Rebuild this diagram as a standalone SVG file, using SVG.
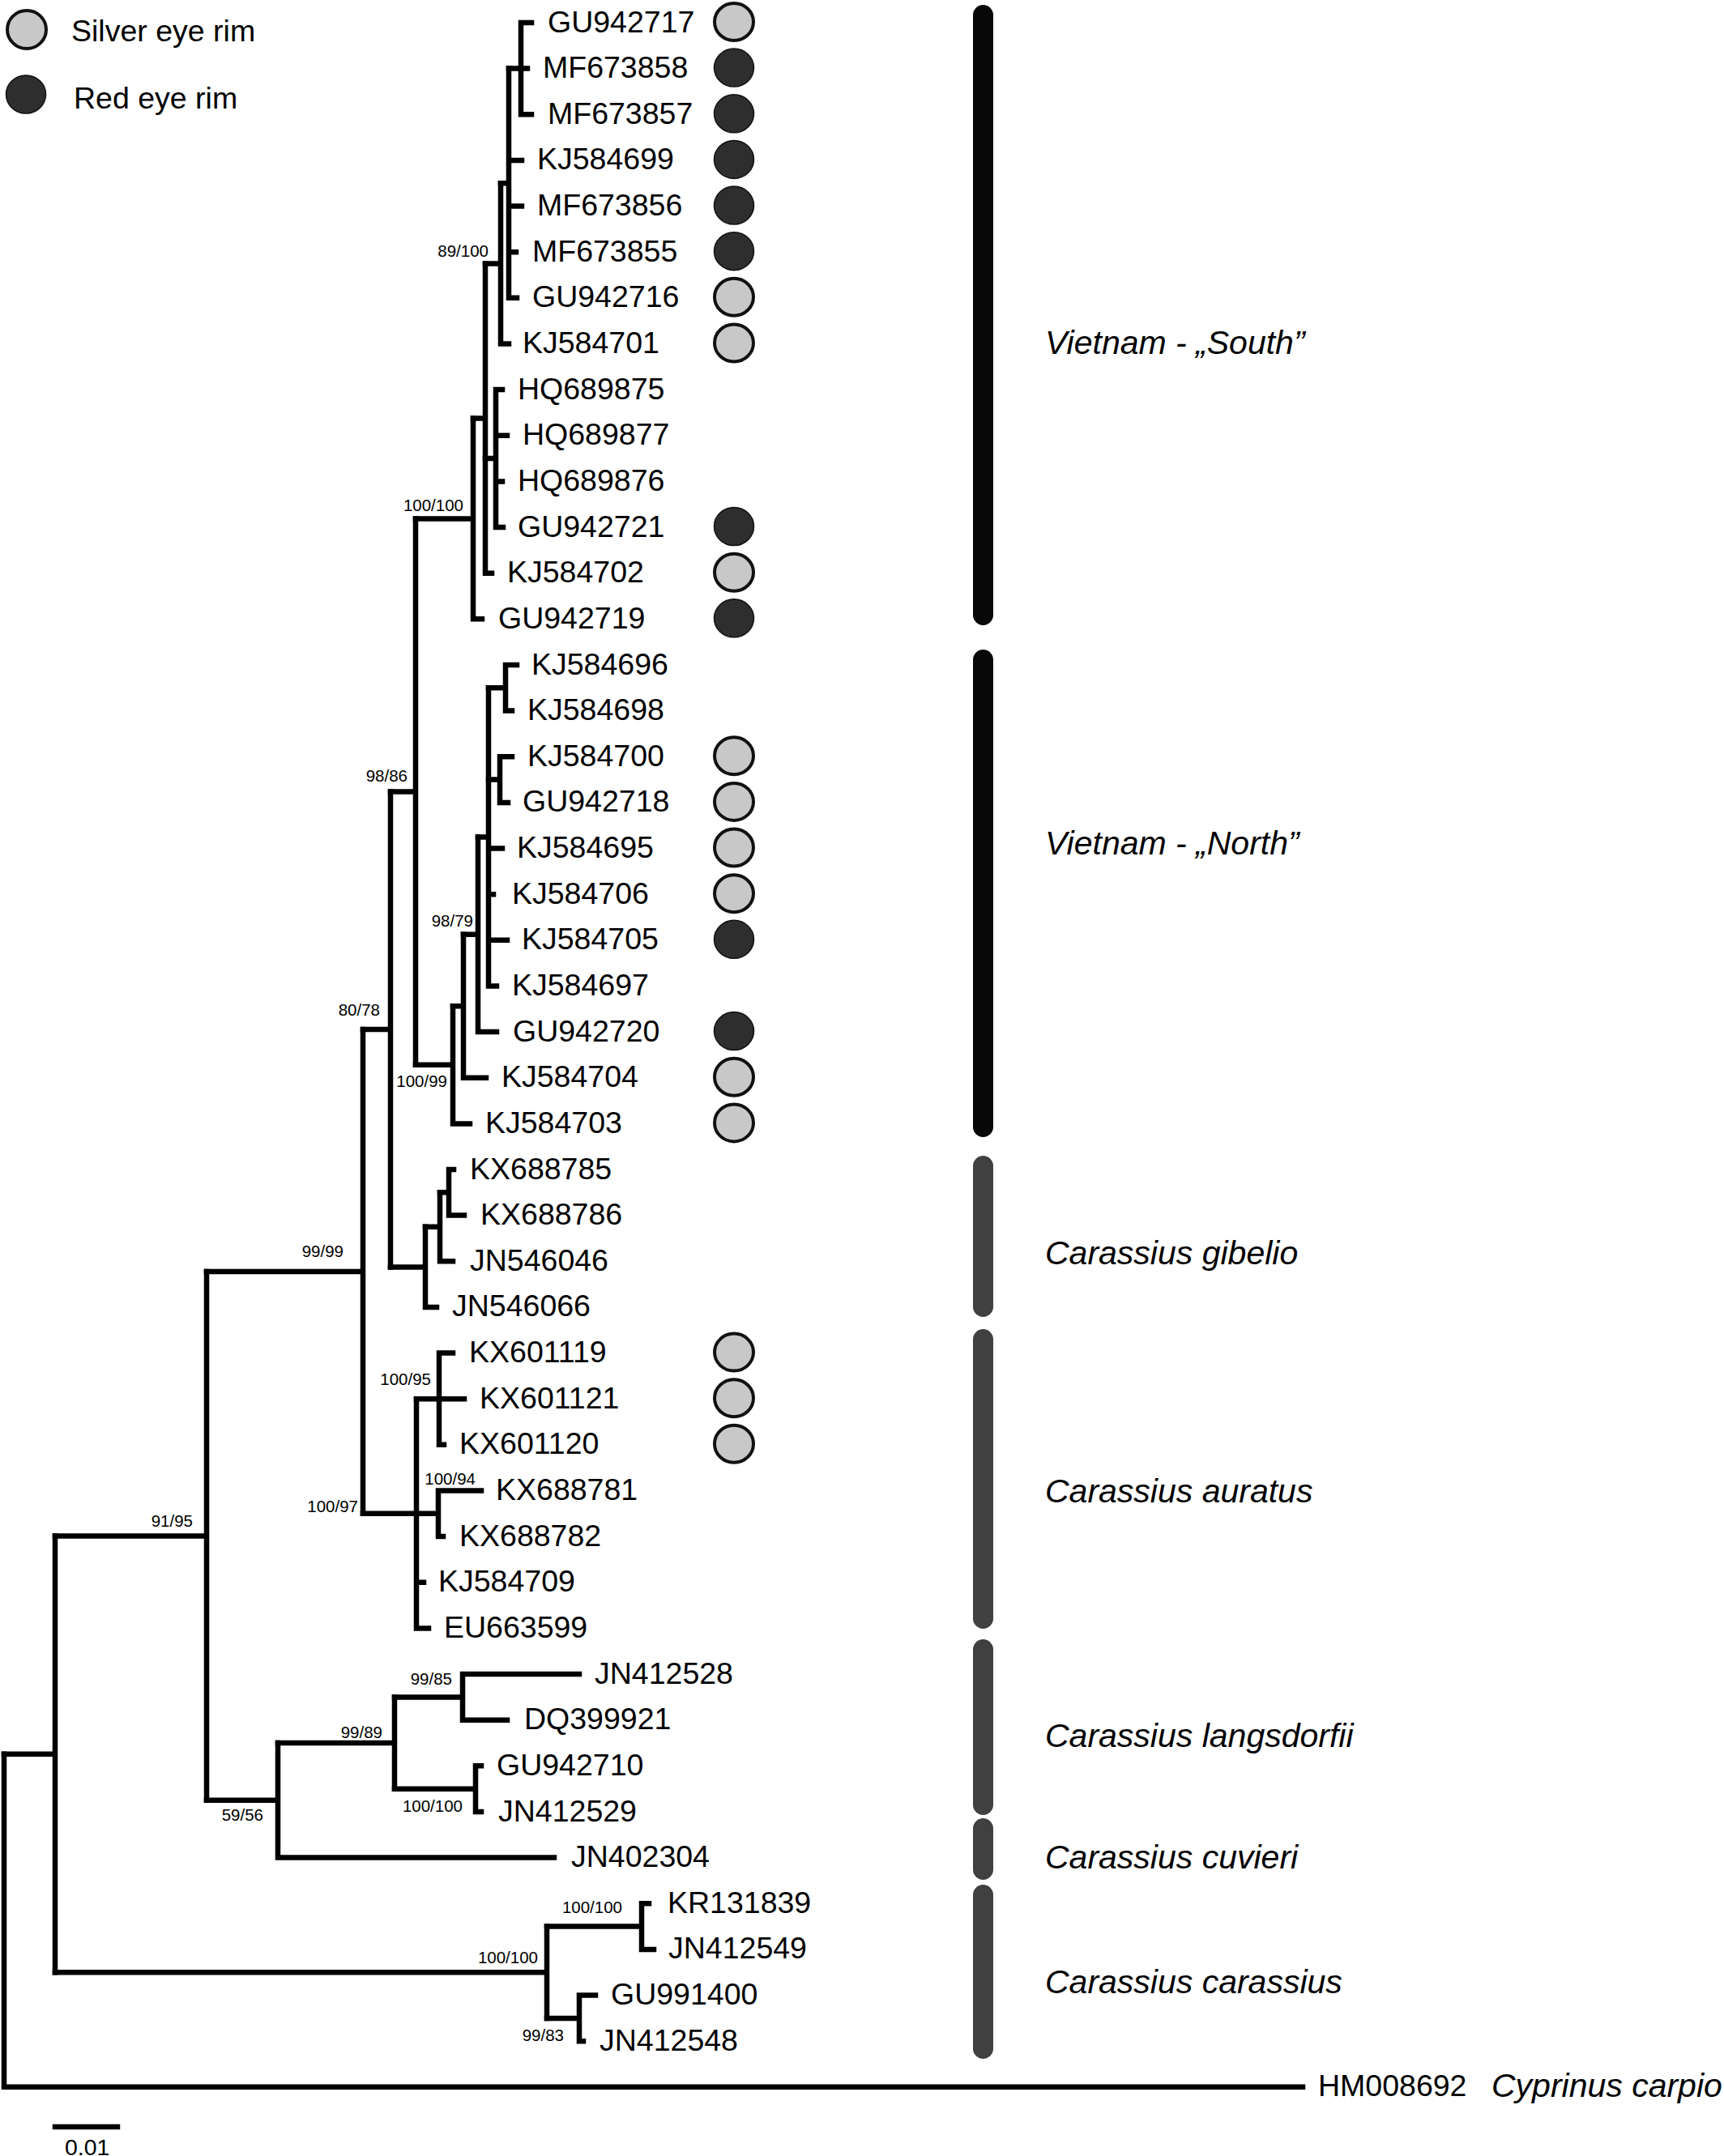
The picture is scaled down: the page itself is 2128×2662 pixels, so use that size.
<svg xmlns="http://www.w3.org/2000/svg" width="2128" height="2662" viewBox="0 0 2128 2662">
<style>
.br{fill:none;stroke:#000;stroke-width:6.5;stroke-linecap:square}
.lb{font-family:"Liberation Sans",Arial,sans-serif;font-size:37.5px;fill:#000}
.bs{font-family:"Liberation Sans",Arial,sans-serif;font-size:20.5px;fill:#000;text-anchor:end}
.cl{font-family:"Liberation Sans",Arial,sans-serif;font-size:41px;font-style:italic;fill:#000}
.sv{fill:#c8c8c8;stroke:#111;stroke-width:4}
.rd{fill:#2e2e2e;stroke:#111;stroke-width:1.5}
.bk{fill:#080808}
.gy{fill:#404040}
</style>
<rect width="2128" height="2662" fill="#fff"/>
<g id="legend">
<ellipse class="sv" cx="33" cy="36.5" rx="24" ry="23.5"/>
<text class="lb" x="88" y="50.5">Silver eye rim</text>
<ellipse class="rd" cx="32" cy="116.5" rx="24.5" ry="23.5"/>
<text class="lb" x="91" y="133.5">Red eye rim</text>
</g>
<g id="connectors" class="br">
<path d="M5,2165.8V2576.8M5,2576.8H1608"/>
<path d="M5,2165.8H68M68,1896.4V2435.2"/>
<path d="M68,1896.4H255M255,1569.9V2222.8"/>
<path d="M68,2435.2H675M675,2378.6V2491.9"/>
<path d="M675,2378.6H792M792,2350.2V2406.9M792,2350.2H801M792,2406.9H807"/>
<path d="M675,2491.9H715M715,2463.5V2520.2M715,2463.5H735M715,2520.2H720"/>
<path d="M255,1569.9H448M448,1271V1868.8"/>
<path d="M255,2222.8H343M343,2152V2293.6M343,2293.6H684"/>
<path d="M343,2152H487M487,2095.4V2208.7"/>
<path d="M487,2095.4H571M571,2067V2123.7M571,2067H715M571,2123.7H626"/>
<path d="M487,2208.7H587M587,2180.3V2237M587,2180.3H594M587,2237H594"/>
<path d="M448,1271H482M482,977.6V1564.4"/>
<path d="M448,1868.8H514M514,1727.2V2010.4M514,1953.8H523M514,2010.4H529"/>
<path d="M514,1727.2H542M542,1670.6V1783.8M542,1670.6H559M542,1727.2H573M542,1783.8H548"/>
<path d="M514,1868.8H541M541,1840.5V1897.1M541,1840.5H594M541,1897.1H547"/>
<path d="M482,1564.4H525M525,1514.8V1613.9M525,1613.9H539"/>
<path d="M525,1514.8H543M543,1472.3V1557.3M543,1557.3H559"/>
<path d="M543,1472.3H554M554,1444V1500.6M554,1444H560M554,1500.6H573"/>
<path d="M482,977.6H513M513,640.4V1314.8"/>
<path d="M513,640.4H584M584,516.6V764.3M584,764.3H595"/>
<path d="M584,516.6H599M599,325.4V707.7M599,707.7H607"/>
<path d="M599,566.1H612M612,481.1V651M612,481.1H620M612,537.8H626M612,594.4H620M612,651H621"/>
<path d="M599,325.4H618M618,226.2V424.5M618,424.5H628"/>
<path d="M618,226.2H628M628,84.6V367.8M628,197.9H644M628,254.6H644M628,311.2H637M628,367.8H638"/>
<path d="M628,84.6H643M643,28V141.3M643,28H656M643,84.6H651M643,141.3H656"/>
<path d="M513,1314.8H559M559,1242.2V1387.4M559,1387.4H580"/>
<path d="M559,1242.2H572M572,1153.8V1330.7M572,1330.7H600"/>
<path d="M572,1153.8H590M590,1033.4V1274.1M590,1274.1H613"/>
<path d="M590,1033.4H603M603,849.3V1217.4M603,1047.5H620M603,1104.2H609M603,1160.8H626M603,1217.4H613"/>
<path d="M603,849.3H624M624,821V877.6M624,821H638M624,877.6H632"/>
<path d="M603,962.6H617M617,934.2V990.9M617,934.2H632M617,990.9H627"/>
</g>
<g id="support">
<text class="bs" x="603" y="317">89/100</text>
<text class="bs" x="572" y="631">100/100</text>
<text class="bs" x="503" y="965">98/86</text>
<text class="bs" x="469" y="1254">80/78</text>
<text class="bs" x="584" y="1144">98/79</text>
<text class="bs" x="552" y="1342">100/99</text>
<text class="bs" x="424" y="1552">99/99</text>
<text class="bs" x="532" y="1710">100/95</text>
<text class="bs" x="587" y="1833">100/94</text>
<text class="bs" x="442" y="1867">100/97</text>
<text class="bs" x="238" y="1885">91/95</text>
<text class="bs" x="558" y="2080">99/85</text>
<text class="bs" x="472" y="2146">99/89</text>
<text class="bs" x="325" y="2248">59/56</text>
<text class="bs" x="571" y="2237">100/100</text>
<text class="bs" x="768" y="2362">100/100</text>
<text class="bs" x="664" y="2424">100/100</text>
<text class="bs" x="696" y="2520">99/83</text>
</g>
<g id="leaves">
<g id="GU942717"><text class="lb" x="676" y="39.5">GU942717</text><ellipse class="sv" cx="906" cy="27" rx="24" ry="23"/></g>
<g id="MF673858"><text class="lb" x="670" y="96.1">MF673858</text><ellipse class="rd" cx="906" cy="83.6" rx="24.5" ry="23.5"/></g>
<g id="MF673857"><text class="lb" x="676" y="152.8">MF673857</text><ellipse class="rd" cx="906" cy="140.3" rx="24.5" ry="23.5"/></g>
<g id="KJ584699"><text class="lb" x="663" y="209.4">KJ584699</text><ellipse class="rd" cx="906" cy="196.9" rx="24.5" ry="23.5"/></g>
<g id="MF673856"><text class="lb" x="663" y="266.1">MF673856</text><ellipse class="rd" cx="906" cy="253.6" rx="24.5" ry="23.5"/></g>
<g id="MF673855"><text class="lb" x="657" y="322.7">MF673855</text><ellipse class="rd" cx="906" cy="310.2" rx="24.5" ry="23.5"/></g>
<g id="GU942716"><text class="lb" x="657" y="379.3">GU942716</text><ellipse class="sv" cx="906" cy="366.8" rx="24" ry="23"/></g>
<g id="KJ584701"><text class="lb" x="645" y="436">KJ584701</text><ellipse class="sv" cx="906" cy="423.5" rx="24" ry="23"/></g>
<g id="HQ689875"><text class="lb" x="639" y="492.6">HQ689875</text></g>
<g id="HQ689877"><text class="lb" x="645" y="549.3">HQ689877</text></g>
<g id="HQ689876"><text class="lb" x="639" y="605.9">HQ689876</text></g>
<g id="GU942721"><text class="lb" x="639" y="662.5">GU942721</text><ellipse class="rd" cx="906" cy="650" rx="24.5" ry="23.5"/></g>
<g id="KJ584702"><text class="lb" x="626" y="719.2">KJ584702</text><ellipse class="sv" cx="906" cy="706.7" rx="24" ry="23"/></g>
<g id="GU942719"><text class="lb" x="615" y="775.8">GU942719</text><ellipse class="rd" cx="906" cy="763.3" rx="24.5" ry="23.5"/></g>
<g id="KJ584696"><text class="lb" x="656" y="832.5">KJ584696</text></g>
<g id="KJ584698"><text class="lb" x="651" y="889.1">KJ584698</text></g>
<g id="KJ584700"><text class="lb" x="651" y="945.7">KJ584700</text><ellipse class="sv" cx="906" cy="933.2" rx="24" ry="23"/></g>
<g id="GU942718"><text class="lb" x="645" y="1002.4">GU942718</text><ellipse class="sv" cx="906" cy="989.9" rx="24" ry="23"/></g>
<g id="KJ584695"><text class="lb" x="638" y="1059">KJ584695</text><ellipse class="sv" cx="906" cy="1046.5" rx="24" ry="23"/></g>
<g id="KJ584706"><text class="lb" x="632" y="1115.7">KJ584706</text><ellipse class="sv" cx="906" cy="1103.2" rx="24" ry="23"/></g>
<g id="KJ584705"><text class="lb" x="644" y="1172.3">KJ584705</text><ellipse class="rd" cx="906" cy="1159.8" rx="24.5" ry="23.5"/></g>
<g id="KJ584697"><text class="lb" x="632" y="1228.9">KJ584697</text></g>
<g id="GU942720"><text class="lb" x="633" y="1285.6">GU942720</text><ellipse class="rd" cx="906" cy="1273.1" rx="24.5" ry="23.5"/></g>
<g id="KJ584704"><text class="lb" x="619" y="1342.2">KJ584704</text><ellipse class="sv" cx="906" cy="1329.7" rx="24" ry="23"/></g>
<g id="KJ584703"><text class="lb" x="599" y="1398.9">KJ584703</text><ellipse class="sv" cx="906" cy="1386.4" rx="24" ry="23"/></g>
<g id="KX688785"><text class="lb" x="580" y="1455.5">KX688785</text></g>
<g id="KX688786"><text class="lb" x="593" y="1512.1">KX688786</text></g>
<g id="JN546046"><text class="lb" x="580" y="1568.8">JN546046</text></g>
<g id="JN546066"><text class="lb" x="558" y="1625.4">JN546066</text></g>
<g id="KX601119"><text class="lb" x="579" y="1682.1">KX601119</text><ellipse class="sv" cx="906" cy="1669.6" rx="24" ry="23"/></g>
<g id="KX601121"><text class="lb" x="592" y="1738.7">KX601121</text><ellipse class="sv" cx="906" cy="1726.2" rx="24" ry="23"/></g>
<g id="KX601120"><text class="lb" x="567" y="1795.3">KX601120</text><ellipse class="sv" cx="906" cy="1782.8" rx="24" ry="23"/></g>
<g id="KX688781"><text class="lb" x="612" y="1852">KX688781</text></g>
<g id="KX688782"><text class="lb" x="567" y="1908.6">KX688782</text></g>
<g id="KJ584709"><text class="lb" x="541" y="1965.3">KJ584709</text></g>
<g id="EU663599"><text class="lb" x="548" y="2021.9">EU663599</text></g>
<g id="JN412528"><text class="lb" x="734" y="2078.5">JN412528</text></g>
<g id="DQ399921"><text class="lb" x="647" y="2135.2">DQ399921</text></g>
<g id="GU942710"><text class="lb" x="613" y="2191.8">GU942710</text></g>
<g id="JN412529"><text class="lb" x="615" y="2248.5">JN412529</text></g>
<g id="JN402304"><text class="lb" x="705" y="2305.1">JN402304</text></g>
<g id="KR131839"><text class="lb" x="824" y="2361.7">KR131839</text></g>
<g id="JN412549"><text class="lb" x="825" y="2418.4">JN412549</text></g>
<g id="GU991400"><text class="lb" x="754" y="2475">GU991400</text></g>
<g id="JN412548"><text class="lb" x="740" y="2531.7">JN412548</text></g>
<g id="HM008692"><text class="lb" x="1627" y="2588">HM008692</text><text class="cl" x="1841" y="2589">Cyprinus carpio</text></g>
</g>
<g id="clades">
<g id="clade-south"><rect class="bk" x="1201" y="6" width="25" height="766" rx="12.5"/><text class="cl" x="1290" y="437">Vietnam - „South”</text></g>
<g id="clade-north"><rect class="bk" x="1201" y="802" width="25" height="602" rx="12.5"/><text class="cl" x="1290" y="1055">Vietnam - „North”</text></g>
<g id="clade-gibelio"><rect class="gy" x="1201" y="1427" width="25" height="199" rx="12.5"/><text class="cl" x="1290" y="1561">Carassius gibelio</text></g>
<g id="clade-auratus"><rect class="gy" x="1201" y="1641" width="25" height="370" rx="12.5"/><text class="cl" x="1290" y="1855">Carassius auratus</text></g>
<g id="clade-langsdorfii"><rect class="gy" x="1201" y="2024" width="25" height="217" rx="12.5"/><text class="cl" x="1290" y="2157">Carassius langsdorfii</text></g>
<g id="clade-cuvieri"><rect class="gy" x="1201" y="2245" width="25" height="76" rx="12.5"/><text class="cl" x="1290" y="2307">Carassius cuvieri</text></g>
<g id="clade-carassius"><rect class="gy" x="1201" y="2327" width="25" height="215" rx="12.5"/><text class="cl" x="1290" y="2461">Carassius carassius</text></g>
</g>
<g id="scale">
<path class="br" d="M68,2626H145"/>
<text x="80" y="2661" style="font-family:'Liberation Sans',Arial,sans-serif;font-size:28.5px">0.01</text>
</g>
</svg>
